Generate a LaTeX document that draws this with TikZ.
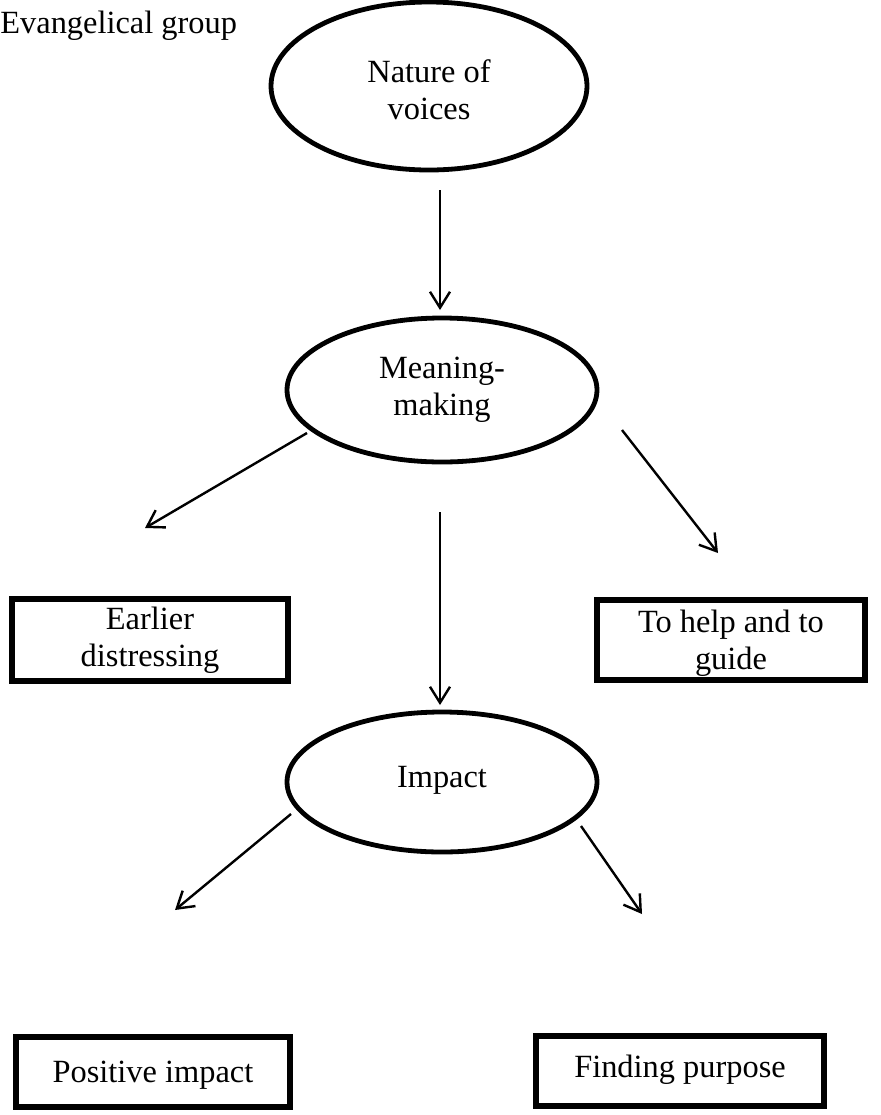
\documentclass[tikz,border=0pt]{standalone}
\usepackage{fontspec}
\setmainfont{Liberation Serif}
\usetikzlibrary{arrows.meta,shapes.geometric}
\tikzset{
  px/.style={x=0.5pt,y=-0.5pt},
  txt/.style={font=\fontsize{16.2}{18.4}\selectfont, align=center, inner sep=0pt},
  oval/.style={draw, ellipse, line width=2.4pt, inner sep=0pt},
  boxnode/.style={draw, rectangle, line width=2.6pt, inner sep=0pt},
  conn/.style={line width=1.2pt, -{Straight Barb[length=8pt,width=10pt,line width=1.2pt]}},
}
\begin{document}
\begin{tikzpicture}[px]
\useasboundingbox (0,0) rectangle (881,1115);
% title
\node[txt, anchor=base west] (title) at (0,33) {Evangelical group};
% ellipses
\node[oval, minimum width=158pt, minimum height=84pt] (nat) at (429,86) {};
\node[txt] (natt) at (429,90) {Nature of\\voices};
\node[oval, minimum width=155pt, minimum height=72pt] (mean) at (442,390) {};
\node[txt] (meant) at (442,390) {Meaning-\\making};
\node[oval, minimum width=155pt, minimum height=70pt] (imp) at (442,782) {};
\node[txt] (impt) at (442,780) {Impact};
% boxes
\node[boxnode, minimum width=138pt, minimum height=41pt] (early) at (150,640) {};
\node[txt, anchor=north] (earlyt) at (150,607) {Earlier\\distressing};
\node[boxnode, minimum width=134pt, minimum height=40pt] (help) at (731,640) {};
\node[txt] (helpt) at (731,643) {To help and to\\guide};
\node[boxnode, minimum width=137pt, minimum height=35pt] (pos) at (153,1072) {};
\node[txt] (post) at (153,1075) {Positive impact};
\node[boxnode, minimum width=144pt, minimum height=35pt] (find) at (680,1071) {};
\node[txt] (findt) at (680,1070) {Finding purpose};
% connector ends
\coordinate (a1s) at (440,190); \coordinate (a1e) at (440,310);
\coordinate (a2s) at (307,433); \coordinate (a2e) at (145,528);
\coordinate (a3s) at (440,512); \coordinate (a3e) at (440,705);
\coordinate (a4s) at (622,430); \coordinate (a4e) at (718,553);
\coordinate (a5s) at (291,814); \coordinate (a5e) at (175,910);
\coordinate (a6s) at (581,826); \coordinate (a6e) at (642,914);
\draw[conn] (a1s) -- (a1e);
\draw[conn] (a2s) -- (a2e);
\draw[conn] (a3s) -- (a3e);
\draw[conn] (a4s) -- (a4e);
\draw[conn] (a5s) -- (a5e);
\draw[conn] (a6s) -- (a6e);
\end{tikzpicture}
\end{document}
